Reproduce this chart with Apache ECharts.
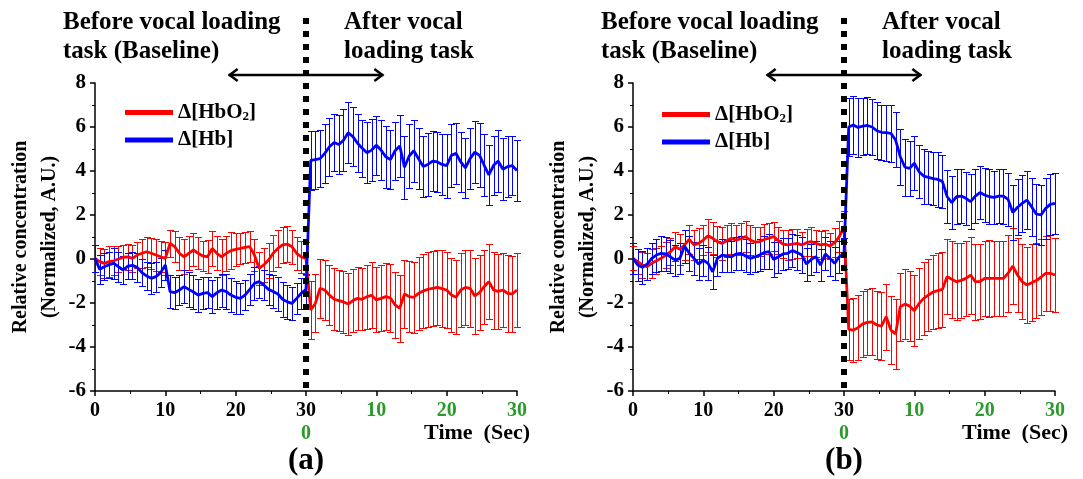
<!DOCTYPE html>
<html><head><meta charset="utf-8">
<script src="https://cdn.jsdelivr.net/npm/echarts/dist/echarts.min.js"></script>
<style>html,body{margin:0;padding:0;background:#fff}#c{width:1083px;height:479px}</style>
</head><body><div id="c"></div>
<script>
// ---- data ----
// time (s) on a continuous 0..60 scale: 0..30 baseline, 30..60 after the task
const time = [0,0.67,1.33,2,2.67,3.33,4,4.67,5.33,6,6.67,7.33,8,8.67,9.33,10,10.67,11.33,12,12.67,13.33,14,14.67,15.33,16,16.67,17.33,18,18.67,19.33,20,20.67,21.33,22,22.67,23.33,24,24.67,25.33,26,26.67,27.33,28,28.67,29.33,30,
  30.67,31.33,32,32.67,33.33,34,34.67,35.33,36,36.67,37.33,38,38.67,39.33,40,40.67,41.33,42,42.67,43.33,44,44.67,45.33,46,46.67,47.33,48,48.67,49.33,50,50.67,51.33,52,52.67,53.33,54,54.67,55.33,56,56.67,57.33,58,58.67,59.33,60];
const xTickValues = [0,10,20,30,40,50,60];
const xTickLabels = ['0','10','20','30','10','20','30'];
const yTicks = [-6,-4,-2,0,2,4,6,8];

// Panel (a)
const hbo2ABase = [0.03,-0.12,-0.2,-0.12,-0.08,0,0.08,0.1,0.03,0.18,0.26,0.33,0.26,0.18,0.1,0.03,0.71,0.56,0.26,0.1,0.26,0.41,0.26,0.14,0.1,0.48,0.26,0.1,0.26,0.38,0.44,0.48,0.53,0.56,0.18,-0.42,-0.27,-0.05,0.26,0.48,0.64,0.68,0.56,0.26,0.1,0.03];
const hbo2AAfter = [-2.32,-2.02,-1.33,-1.41,-1.64,-1.83,-1.89,-1.95,-2.05,-1.89,-1.79,-1.83,-1.71,-1.65,-1.86,-1.79,-1.71,-1.77,-2.09,-2.24,-1.59,-1.71,-1.74,-1.56,-1.45,-1.38,-1.33,-1.29,-1.35,-1.41,-1.64,-1.74,-1.41,-1.29,-1.33,-1.68,-1.53,-1.26,-1.03,-1.41,-1.47,-1.41,-1.56,-1.59,-1.41];
const hbo2ErrA = [0.6,0.62,0.65,0.7,0.65,0.6,0.55,0.6,0.62,0.6,0.65,0.68,0.7,0.72,0.7,0.75,0.6,0.7,0.75,0.8,0.78,0.75,0.72,0.7,0.75,0.8,0.78,0.82,0.8,0.85,0.75,0.72,0.7,0.7,0.72,0.75,0.78,0.8,0.82,0.85,0.82,0.8,0.78,0.75,0.72,0.75,
  1.3,1.32,1.35,1.35,1.38,1.4,1.4,1.42,1.4,1.45,1.42,1.4,1.45,1.5,1.48,1.5,1.52,1.55,1.5,1.52,1.55,1.6,1.62,1.65,1.68,1.7,1.7,1.72,1.75,1.72,1.7,1.68,1.7,1.72,1.75,1.72,1.7,1.68,1.7,1.75,1.72,1.7,1.75,1.72,1.7];
const hbABase = [0.03,-0.47,-0.35,-0.26,-0.2,-0.35,-0.5,-0.32,-0.29,-0.38,-0.62,-0.77,-0.88,-0.8,-0.62,-0.27,-1.48,-1.53,-1.41,-1.26,-1.38,-1.5,-1.64,-1.56,-1.53,-1.71,-1.53,-1.41,-1.48,-1.64,-1.74,-1.79,-1.64,-1.38,-1.11,-1.03,-1.18,-1.38,-1.48,-1.59,-1.83,-1.95,-2.02,-1.79,-1.56,-1.38];
const hbAAfter = [4.48,4.52,4.56,4.8,5.1,5.3,5.2,5.4,5.74,5.56,5.26,5.03,4.83,4.95,5.17,4.95,4.65,4.52,4.92,5.14,4.17,4.68,4.92,4.56,4.2,4.3,4.45,4.41,4.3,4.24,4.71,4.8,4.41,4.14,4.56,4.86,4.71,4.26,3.82,4.26,4.45,4.08,4.2,4.24,4.02];
const hbErrA = [0.6,0.65,0.62,0.6,0.7,0.68,0.65,0.6,0.62,0.65,0.6,0.65,0.7,0.68,0.65,0.7,0.75,0.72,0.7,0.75,0.8,0.78,0.75,0.72,0.7,0.75,0.72,0.75,0.8,0.78,0.75,0.72,0.7,0.72,0.75,0.72,0.7,0.72,0.75,0.78,0.8,0.78,0.75,0.72,0.7,0.7,
  1.35,1.32,1.3,1.35,1.32,1.3,1.35,1.4,1.38,1.35,1.32,1.3,1.38,1.4,1.35,1.38,1.4,1.35,1.32,1.4,1.42,1.45,1.4,1.38,1.4,1.42,1.35,1.38,1.4,1.45,1.42,1.4,1.35,1.38,1.4,1.42,1.45,1.4,1.38,1.35,1.4,1.42,1.38,1.35,1.4];

// Panel (b)
const hbo2BBase = [0.03,-0.12,-0.27,-0.35,-0.2,-0.08,0.03,0.18,0.33,0.56,0.44,0.64,0.89,0.64,0.71,0.86,1.06,0.94,0.79,0.71,0.83,0.94,0.86,0.92,1.02,0.86,0.77,0.79,0.89,0.95,1.02,0.83,0.68,0.64,0.68,0.71,0.64,0.74,0.79,0.71,0.64,0.68,0.59,0.74,1.02,1.47];
const hbo2BAfter = [-3.2,-3.23,-3.12,-2.95,-2.88,-2.86,-3.0,-3.05,-2.62,-3.23,-3.41,-2.17,-2.05,-2.14,-2.35,-2.02,-1.79,-1.64,-1.5,-1.44,-1.38,-0.8,-0.92,-1.03,-0.97,-0.88,-0.73,-1.03,-1.03,-0.88,-0.88,-0.88,-0.88,-0.88,-0.65,-0.32,-0.73,-1.03,-1.18,-1.08,-0.98,-0.83,-0.65,-0.65,-0.73];
const hbo2ErrB = [0.55,0.58,0.6,0.62,0.65,0.6,0.58,0.6,0.62,0.65,0.7,0.68,0.65,0.7,0.72,0.7,0.75,0.72,0.7,0.75,0.72,0.7,0.7,0.72,0.7,0.68,0.7,0.65,0.68,0.7,0.65,0.62,0.65,0.68,0.7,0.65,0.6,0.62,0.65,0.6,0.62,0.65,0.6,0.65,0.7,0.7,
  1.4,1.45,1.48,1.5,1.5,1.52,1.55,1.55,1.5,1.55,1.6,1.55,1.6,1.6,1.62,1.6,1.65,1.65,1.68,1.7,1.7,1.72,1.75,1.75,1.72,1.7,1.75,1.72,1.7,1.72,1.75,1.7,1.72,1.7,1.75,1.72,1.7,1.7,1.72,1.75,1.7,1.72,1.7,1.72,1.7];
const hbBBase = [0.03,-0.27,-0.38,-0.23,0.03,0.18,0.26,0.23,0.1,-0.05,0.03,0.59,0.26,0.03,-0.23,-0.05,-0.2,-0.58,0.03,0.18,0.14,0.1,0.23,0.26,0.14,0.03,0.1,0.18,0.29,0.33,-0.02,0.1,0.23,0.26,0.38,0.29,0.18,-0.23,-0.02,0.1,-0.27,0.23,0.03,-0.2,0.1,0.26];
const hbBAfter = [6.0,6.09,5.98,6.04,6.07,6.0,5.83,5.76,5.74,5.71,5.41,4.65,4.17,4.12,4.35,3.97,3.77,3.71,3.65,3.62,3.52,2.83,2.56,2.83,2.86,2.76,2.61,2.86,3.02,2.91,2.83,2.8,2.86,2.86,2.71,2.11,2.35,2.53,2.68,2.38,2.05,2.0,2.3,2.48,2.53];
const hbErrB = [0.7,0.72,0.75,0.72,0.7,0.75,0.8,0.78,0.75,0.7,0.72,0.75,0.8,0.75,0.72,0.7,0.75,0.78,0.8,0.75,0.72,0.7,0.75,0.78,0.75,0.72,0.7,0.72,0.75,0.8,0.78,0.75,0.72,0.7,0.75,0.78,0.8,0.75,0.72,0.7,0.72,0.75,0.78,0.75,0.72,0.7,
  1.3,1.32,1.35,1.3,1.3,1.28,1.3,1.25,1.28,1.3,1.25,1.28,1.3,1.25,1.22,1.2,1.25,1.22,1.2,1.25,1.22,1.2,1.2,1.25,1.22,1.2,1.25,1.22,1.2,1.22,1.25,1.2,1.22,1.25,1.22,1.25,1.28,1.3,1.3,1.32,1.35,1.35,1.38,1.4,1.4];

const hbo2A = hbo2ABase.concat(hbo2AAfter), hbA = hbABase.concat(hbAAfter);
const hbo2B = hbo2BBase.concat(hbo2BAfter), hbB = hbBBase.concat(hbBAfter);

const RED = '#ff0000', BLUE = '#0000ff', GREEN = '#2a9a2a';
const FONT = '"Liberation Serif", "Times New Roman", serif';

// ---- chart ----
const chart = echarts.init(document.getElementById('c'), null, {renderer: 'canvas'});

function errRender(params, api) {
  const x = api.value(0), lo = api.value(1), hi = api.value(2);
  const p1 = api.coord([x, lo]), p2 = api.coord([x, hi]);
  const xc = Math.round(p1[0]) + 0.5;
  const y1 = Math.round(p1[1]) + 0.5, y2 = Math.round(p2[1]) + 0.5;
  const w = 3.5;
  const style = {stroke: api.visual('color'), lineWidth: 1};
  return {type: 'group', children: [
    {type: 'line', shape: {x1: xc, y1: y1, x2: xc, y2: y2}, style: style},
    {type: 'line', shape: {x1: xc - w, y1: y1, x2: xc + w, y2: y1}, style: style},
    {type: 'line', shape: {x1: xc - w, y1: y2, x2: xc + w, y2: y2}, style: style}
  ]};
}
function errData(mean, err) { return time.map((t, i) => [t, mean[i] - err[i], mean[i] + err[i]]); }
function lineData(mean) { return time.map((t, i) => [t, mean[i]]); }

function xAxis(gi) {
  return {
    type: 'value', gridIndex: gi, min: 0, max: 60, interval: 10,
    axisLine: {show: true, onZero: false, lineStyle: {color: '#000', width: 1.5}},
    axisTick: {show: true, inside: false, length: 5, lineStyle: {color: '#000', width: 1.5}},
    minorTick: {show: true, splitNumber: 2, length: 3, lineStyle: {color: '#000', width: 1}},
    splitLine: {show: false},
    axisLabel: {
      margin: 8, fontFamily: FONT, fontWeight: 'bold', fontSize: 20, color: '#000', lineHeight: 23,
      formatter: function (v) {
        const idx = xTickValues.indexOf(v);
        const lab = idx >= 0 ? xTickLabels[idx] : '';
        if (v < 30) return lab;
        if (v === 30) return lab + '\n{g|0}';
        return '{g|' + lab + '}';
      },
      rich: {g: {color: GREEN, fontFamily: FONT, fontWeight: 'bold', fontSize: 20, lineHeight: 23}}
    }
  };
}
function yAxis(gi) {
  return {
    type: 'value', gridIndex: gi, min: -6, max: 8, interval: 2,
    name: 'Relative concentration\n(Normalized, A.U.)', nameLocation: 'middle', nameGap: 28, nameRotate: 90,
    nameTextStyle: {fontFamily: FONT, fontWeight: 'bold', fontSize: 20, color: '#000', lineHeight: 29},
    axisLine: {show: true, onZero: false, lineStyle: {color: '#000', width: 1.5}},
    axisTick: {show: true, inside: false, length: 5, lineStyle: {color: '#000', width: 1.5}},
    minorTick: {show: true, splitNumber: 2, length: 3, lineStyle: {color: '#000', width: 1}},
    splitLine: {show: false},
    axisLabel: {margin: 9, fontFamily: FONT, fontWeight: 'bold', fontSize: 21, color: '#000',
      formatter: v => (yTicks.indexOf(v) >= 0 ? String(v) : '')}
  };
}
function seriesFor(gi, hbo2, hbo2Err, hb, hbErr) {
  return [
    {type: 'custom', name: 'HbO2 err', xAxisIndex: gi, yAxisIndex: gi, renderItem: errRender,
      itemStyle: {color: RED}, encode: {x: 0, y: [1, 2]}, data: errData(hbo2, hbo2Err), z: 2},
    {type: 'custom', name: 'Hb err', xAxisIndex: gi, yAxisIndex: gi, renderItem: errRender,
      itemStyle: {color: BLUE}, encode: {x: 0, y: [1, 2]}, data: errData(hb, hbErr), z: 2},
    {type: 'line', name: 'HbO2', xAxisIndex: gi, yAxisIndex: gi, data: lineData(hbo2), showSymbol: false,
      color: RED, lineStyle: {color: RED, width: 2.8}, z: 3},
    {type: 'line', name: 'Hb', xAxisIndex: gi, yAxisIndex: gi, data: lineData(hb), showSymbol: false,
      color: BLUE, lineStyle: {color: BLUE, width: 2.8}, z: 3}
  ];
}
function legend(left, top) {
  return {
    data: ['HbO2', 'Hb'], orient: 'vertical', left: left, top: top, itemGap: 6,
    icon: 'rect', itemWidth: 48, itemHeight: 5, selectedMode: false,
    textStyle: {fontFamily: FONT, fontWeight: 'bold', fontSize: 21, color: '#000',
      rich: {a: {fontFamily: FONT, fontWeight: 'bold', fontSize: 21, color: '#000', lineHeight: 22},
             s: {fontFamily: FONT, fontWeight: 'bold', fontSize: 13, color: '#000', lineHeight: 22, verticalAlign: 'bottom', padding: [8, 0, 0, 0]}}},
    formatter: n => (n === 'HbO2' ? '{a|Δ[HbO}{s|2}{a|]}' : '{a|Δ[Hb]}')
  };
}

const txt = {fontFamily: FONT, fontWeight: 'bold', fill: '#000'};
const option = {
  animation: false,
  backgroundColor: '#fff',
  grid: [
    {left: 95, top: 83, width: 422, height: 308, containLabel: false, outerBoundsMode: 'none'},
    {left: 633, top: 83, width: 422, height: 308, containLabel: false, outerBoundsMode: 'none'}
  ],
  xAxis: [xAxis(0), xAxis(1)],
  yAxis: [yAxis(0), yAxis(1)],
  legend: [legend(120, 97), legend(657, 99)],
  series: [].concat(seriesFor(0, hbo2A, hbo2ErrA, hbA, hbErrA), seriesFor(1, hbo2B, hbo2ErrB, hbB, hbErrB))
};
chart.setOption(option);

// annotations anchored to the axes
const gfx = [];
[0, 1].forEach(function (gi) {
  const base = chart.convertToPixel({gridIndex: gi}, [30, -6]);
  const top = chart.convertToPixel({gridIndex: gi}, [30, 8]);
  const xL = chart.convertToPixel({gridIndex: gi}, [19, 0])[0];
  const xR = chart.convertToPixel({gridIndex: gi}, [41, 0])[0];
  const x0 = chart.convertToPixel({gridIndex: gi}, [0, 0])[0];
  const x60 = chart.convertToPixel({gridIndex: gi}, [60, 0])[0];
  const xc = base[0], ay = top[1] - 8;
  gfx.push({type: 'line', z: 10, shape: {x1: xc, y1: 18, x2: xc, y2: base[1]},
    style: {stroke: '#000', lineWidth: 6, lineDash: [6, 7]}});
  gfx.push({type: 'line', z: 9, shape: {x1: xL, y1: ay, x2: xR, y2: ay}, style: {stroke: '#000', lineWidth: 2.5}});
  gfx.push({type: 'polyline', z: 9, shape: {points: [[xL + 9, ay - 6], [xL + 1, ay], [xL + 9, ay + 6]]}, style: {stroke: '#000', lineWidth: 2.5, fill: null}});
  gfx.push({type: 'polyline', z: 9, shape: {points: [[xR - 9, ay - 6], [xR - 1, ay], [xR - 9, ay + 6]]}, style: {stroke: '#000', lineWidth: 2.5, fill: null}});
  gfx.push({type: 'text', z: 10, style: Object.assign({text: 'Before vocal loading\ntask (Baseline)', x: x0 - 32, y: 8, fontSize: 25, lineHeight: 29, textAlign: 'left'}, txt)});
  gfx.push({type: 'text', z: 10, style: Object.assign({text: 'After vocal\nloading task', x: xc + 38, y: 8, fontSize: 25, lineHeight: 29, textAlign: 'left'}, txt)});
  gfx.push({type: 'text', z: 10, style: Object.assign({text: 'Time  (Sec)', x: x60 + 13, y: base[1] + 42, fontSize: 22, textAlign: 'right', textVerticalAlign: 'middle'}, txt)});
  gfx.push({type: 'text', z: 10, style: Object.assign({text: gi === 0 ? '(a)' : '(b)', x: xc, y: base[1] + 70, fontSize: 31, textAlign: 'center', textVerticalAlign: 'middle'}, txt)});
});
chart.setOption({graphic: gfx});
</script>
</body></html>
